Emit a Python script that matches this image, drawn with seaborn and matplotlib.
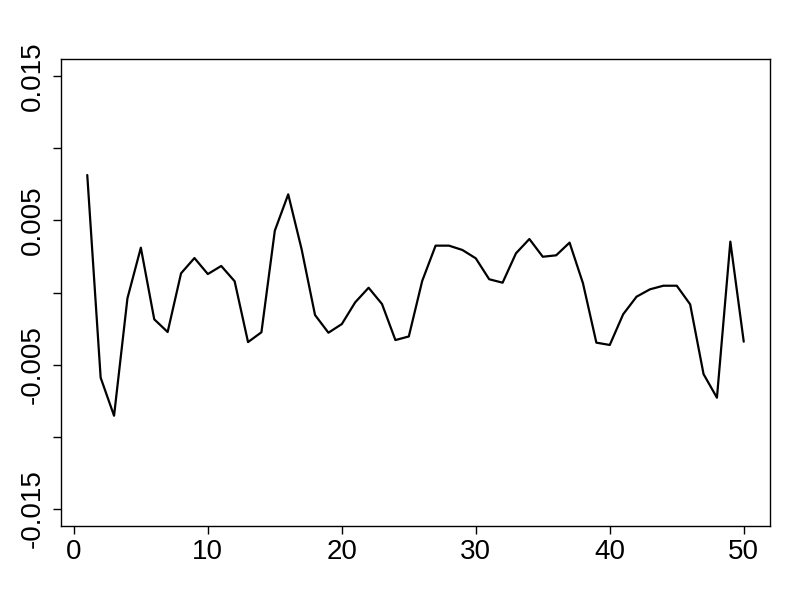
import numpy as np
import pandas as pd
import matplotlib
matplotlib.use("Agg")
import matplotlib.pyplot as plt
import seaborn as sns

# serie (en unidades de 0.001)
idx = list(range(1, 51))
vals = [8.15, -5.91, -8.55, -0.40, 3.11, -1.86, -2.74, 1.33, 2.39, 1.28,
        1.84, 0.78, -3.44, -2.76, 4.29, 6.81, 3.0, -1.56, -2.79, -2.19,
        -0.68, 0.33, -0.80, -3.30, -3.05, 0.80, 3.25, 3.25, 2.95, 2.37,
        0.92, 0.68, 2.72, 3.71, 2.48, 2.58, 3.46, 0.64, -3.48, -3.64,
        -1.51, -0.29, 0.22, 0.47, 0.47, -0.82, -5.66, -7.30, 3.53, -3.41]

x_ticks = [0, 10, 20, 30, 40, 50]
y_ticks = [-0.015, -0.010, -0.005, 0.0, 0.005, 0.010, 0.015]
y_labels = ["-0.015", "", "-0.005", "", "0.005", "", "0.015"]

df = pd.DataFrame({"t": idx, "v": np.array(vals) / 1000.0})

sns.set_theme(style="white")
plt.rcParams["font.family"] = ["Liberation Sans", "DejaVu Sans"]

fig = plt.figure(figsize=(8, 6), dpi=100)
ax = fig.add_axes([0.07625, 0.1233, 0.88625, 0.7784])

sns.lineplot(data=df, x="t", y="v", color="black", linewidth=1.6, ax=ax)

ax.set_xlim(-0.96, 51.96)
ax.set_ylim(-0.0162, 0.0162)
ax.set_xticks(x_ticks)
ax.set_xticklabels([str(t) for t in x_ticks], fontsize=20)
ax.set_yticks(y_ticks)
ax.set_yticklabels(y_labels, fontsize=20, rotation=90, va="center")
ax.set_xlabel("")
ax.set_ylabel("")

ax.tick_params(axis="both", direction="out", length=6, width=1,
               color="black", labelcolor="black", left=True, bottom=True)
ax.tick_params(axis="x", pad=3)
ax.tick_params(axis="y", pad=5)
for s in ax.spines.values():
    s.set_visible(True)
    s.set_color("black")
    s.set_linewidth(1)

fig.savefig("out.png", dpi=100, facecolor="white")
